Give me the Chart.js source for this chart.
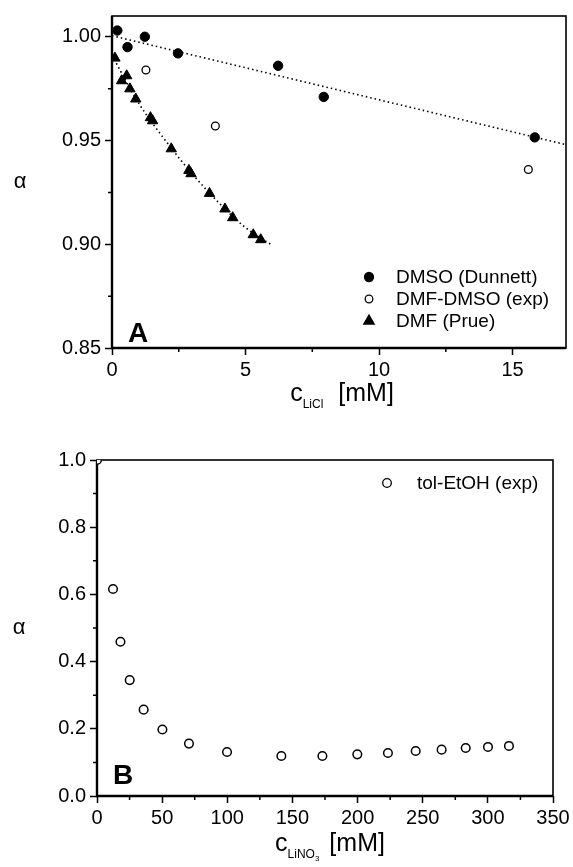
<!DOCTYPE html>
<html>
<head>
<meta charset="utf-8">
<script src="https://cdn.jsdelivr.net/npm/chart.js@4.4.0/dist/chart.umd.min.js"></script>
<style>
  body { margin: 0; background: #fff; }
  canvas { position: absolute; left: 0; }
  #chartA { top: 0; }
  #chartB { top: 430px; }
</style>
</head>
<body>
<canvas id="chartA" width="573" height="430"></canvas>
<canvas id="chartB" width="573" height="437"></canvas>
<script>
// ---- panel A : c(LiCl) in mM vs alpha
const dmsoX = [0.2, 0.58, 1.23, 2.47, 6.22, 7.93, 15.83];
const dmsoY = [1.003, 0.995, 1.000, 0.992, 0.986, 0.971, 0.9515];
const dmfDmsoX = [1.27, 3.87, 15.59];
const dmfDmsoY = [0.984, 0.957, 0.936];
const dmfX = [0.11, 0.36, 0.55, 0.67, 0.89, 1.44, 1.52, 2.22, 2.88, 2.96, 3.65, 4.23, 4.52, 5.29, 5.57];
const dmfY = [0.9897, 0.9788, 0.9812, 0.9749, 0.970, 0.961, 0.9595, 0.946, 0.9356, 0.934, 0.9245, 0.917, 0.9128, 0.9046, 0.9022];
// dotted fit lines
const dmsoFitX = [0, 17];
const dmsoFitY = [1.0005, 0.948];
const dmfFitX = [0, 1, 2, 3, 4, 5, 6];
const dmfFitY = [0.991, 0.968, 0.950, 0.934, 0.920, 0.908, 0.8995];
const xTicksA = [0, 5, 10, 15];
const xMinorA = [2.5, 7.5, 12.5];
const yTicksA = [0.85, 0.90, 0.95, 1.00];
const yMinorA = [0.875, 0.925, 0.975];

// ---- panel B : c(LiNO3) in mM vs alpha
const tolX = [0, 12.3, 18.0, 25.1, 35.8, 50.2, 70.6, 99.8, 141.5, 173, 199.8, 223.3, 244.6, 264.5, 283, 300.1, 316.2];
const tolY = [1.0, 0.616, 0.459, 0.345, 0.257, 0.198, 0.156, 0.131, 0.119, 0.119, 0.124, 0.128, 0.134, 0.138, 0.143, 0.146, 0.149];
const xTicksB = [0, 50, 100, 150, 200, 250, 300, 350];
const xMinorB = [25, 75, 125, 175, 225, 275, 325];
const yTicksB = [0, 0.2, 0.4, 0.6, 0.8, 1.0];
const yMinorB = [0.1, 0.3, 0.5, 0.7, 0.9];

const FONT = "'Liberation Sans', Arial, Helvetica, sans-serif";
Chart.defaults.font.family = FONT;
Chart.defaults.font.size = 20;
Chart.defaults.color = '#000';

const pts = (xs, ys) => xs.map((x, i) => ({ x: x, y: ys[i] }));

function marker(ctx, style, fill, x, y, r) {
  ctx.beginPath();
  if (style === 'triangle') {
    ctx.moveTo(x, y - r);
    ctx.lineTo(x + r * 0.866, y + r * 0.5);
    ctx.lineTo(x - r * 0.866, y + r * 0.5);
    ctx.closePath();
  } else {
    ctx.arc(x, y, r, 0, Math.PI * 2);
  }
  ctx.fillStyle = fill;
  ctx.fill();
  ctx.lineWidth = 1.3;
  ctx.strokeStyle = '#000';
  ctx.stroke();
}

const decor = {
  id: 'decor',
  beforeDatasetsDraw(chart, args, o) {
    const { ctx, chartArea: a, scales } = chart;
    ctx.save();
    ctx.strokeStyle = '#000';
    ctx.lineWidth = 1.5;
    ctx.beginPath();
    o.minorX.forEach(v => {
      const px = scales.x.getPixelForValue(v);
      ctx.moveTo(px, a.bottom); ctx.lineTo(px, a.bottom + 4);
    });
    o.minorY.forEach(v => {
      const py = scales.y.getPixelForValue(v);
      ctx.moveTo(a.left, py); ctx.lineTo(a.left - 4, py);
    });
    ctx.stroke();
    // frame
    ctx.lineWidth = 1.6;
    ctx.strokeRect(a.left, a.top, a.width, a.height);
    ctx.lineWidth = 2.4;
    ctx.beginPath();
    ctx.moveTo(a.left, a.top); ctx.lineTo(a.left, a.bottom); ctx.lineTo(a.right, a.bottom);
    ctx.stroke();
    ctx.restore();
  },
  afterDraw(chart, args, o) {
    const { ctx, chartArea: a } = chart;
    ctx.save();
    ctx.fillStyle = '#000';
    // y title (upright alpha)
    ctx.font = '22px ' + FONT;
    ctx.textAlign = 'center';
    ctx.textBaseline = 'middle';
    ctx.fillText('\u03b1', o.alphaX, (a.top + a.bottom) / 2);
    // panel letter
    ctx.font = 'bold 28px ' + FONT;
    ctx.textAlign = 'left';
    ctx.textBaseline = 'alphabetic';
    ctx.fillText(o.letter, a.left + o.letterDx, a.bottom - o.letterDy);
    // x title with subscripts
    let total = 0;
    o.xTitle.forEach(p => {
      ctx.font = p.size + 'px ' + FONT;
      total += ctx.measureText(p.t).width + (p.gap || 0);
    });
    let x = (a.left + a.right) / 2 + o.titleShift - total / 2;
    const base = a.bottom + o.titleDy;
    o.xTitle.forEach(p => {
      ctx.font = p.size + 'px ' + FONT;
      ctx.fillText(p.t, x, base + (p.dy || 0));
      x += ctx.measureText(p.t).width + (p.gap || 0);
    });
    // legend
    const L = o.legend;
    L.items.forEach((i, k) => {
      const ds = chart.data.datasets[i];
      const y = L.y + k * L.dy;
      marker(ctx, ds.pointStyle, ds.backgroundColor, L.x, y, L.r[k]);
      ctx.fillStyle = '#000';
      ctx.font = '19px ' + FONT;
      ctx.textBaseline = 'middle';
      ctx.fillText(ds.label, L.textX, y + 1);
    });
    ctx.restore();
  }
};

function axis(min, max, ticks, size, fmt, isX) {
  return {
    type: 'linear', min: min, max: max,
    afterBuildTicks: s => { s.ticks = ticks.map(v => ({ value: v })); },
    afterFit: s => { if (isX) s.height = size; else s.width = size; },
    border: { display: false },
    grid: { drawOnChartArea: false, tickLength: 7, tickWidth: 1.5, tickColor: '#000' },
    ticks: { autoSkip: false, maxRotation: 0, padding: isX ? 3 : 4, color: '#000', font: { size: 20 }, callback: fmt }
  };
}

new Chart(document.getElementById('chartA'), {
  type: 'scatter',
  data: {
    datasets: [
      { label: 'DMSO (Dunnett)', data: pts(dmsoX, dmsoY), pointStyle: 'circle', pointRadius: 4.7, backgroundColor: '#000', borderColor: '#000', borderWidth: 1, order: 1 },
      { label: 'DMF-DMSO (exp)', data: pts(dmfDmsoX, dmfDmsoY), pointStyle: 'circle', pointRadius: 3.9, backgroundColor: '#fff', borderColor: '#000', borderWidth: 1.3, order: 1 },
      { label: 'DMF (Prue)', data: pts(dmfX, dmfY), pointStyle: 'triangle', pointRadius: 6, backgroundColor: '#000', borderColor: '#000', borderWidth: 1, order: 1 },
      { label: 'fit DMSO', data: pts(dmsoFitX, dmsoFitY), showLine: true, pointRadius: 0, borderColor: '#000', borderWidth: 1.6, borderDash: [1.5, 3], order: 2 },
      { label: 'fit DMF', data: pts(dmfFitX, dmfFitY), showLine: true, pointRadius: 0, borderColor: '#000', borderWidth: 1.6, borderDash: [1.5, 3], cubicInterpolationMode: 'monotone', order: 2 }
    ]
  },
  options: {
    responsive: false, animation: false, events: [],
    layout: { padding: { left: 0, top: 12, right: 6, bottom: 0 } },
    scales: {
      x: axis(0, 17, xTicksA, 82, v => String(v), true),
      y: axis(0.85, 1.01, yTicksA, 112, v => v.toFixed(2), false)
    },
    plugins: {
      legend: { display: false }, tooltip: { enabled: false },
      decor: {
        minorX: xMinorA, minorY: yMinorA, alphaX: 20, letter: 'A', letterDx: 16, letterDy: 6,
        titleDy: 53, titleShift: 3,
        xTitle: [{ t: 'c', size: 25 }, { t: 'LiCl', size: 12, dy: 7, gap: 15 }, { t: '[mM]', size: 25 }],
        legend: { items: [0, 1, 2], x: 369, y: 277, dy: 22, textX: 396, r: [4.5, 3.8, 6] }
      }
    }
  },
  plugins: [decor]
});

new Chart(document.getElementById('chartB'), {
  type: 'scatter',
  data: {
    datasets: [
      { label: 'tol-EtOH (exp)', data: pts(tolX, tolY), pointStyle: 'circle', pointRadius: 4.3, backgroundColor: '#fff', borderColor: '#000', borderWidth: 1.5, clip: 0 }
    ]
  },
  options: {
    responsive: false, animation: false, events: [],
    layout: { padding: { left: 0, top: 30, right: 20, bottom: 0 } },
    scales: {
      x: axis(0, 350, xTicksB, 71, v => String(v), true),
      y: axis(0, 1.0, yTicksB, 97, v => v.toFixed(1), false)
    },
    plugins: {
      legend: { display: false }, tooltip: { enabled: false },
      decor: {
        minorX: xMinorB, minorY: yMinorB, alphaX: 19, letter: 'B', letterDx: 16, letterDy: 12,
        titleDy: 55, titleShift: 5,
        xTitle: [{ t: 'c', size: 25 }, { t: 'LiNO', size: 12, dy: 7 }, { t: '3', size: 8, dy: 10, gap: 10 }, { t: '[mM]', size: 25 }],
        legend: { items: [0], x: 387, y: 53, dy: 22, textX: 417, r: [4.3] }
      }
    }
  },
  plugins: [decor]
});
</script>
</body>
</html>
